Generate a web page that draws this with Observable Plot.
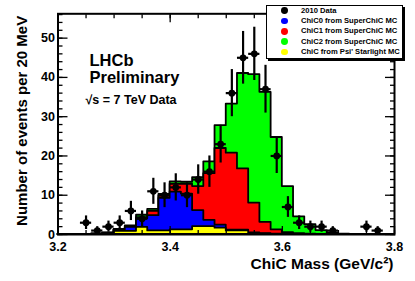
<!DOCTYPE html>
<html><head><meta charset="utf-8">
<script src="https://cdn.jsdelivr.net/npm/d3@7"></script>
<script src="https://cdn.jsdelivr.net/npm/@observablehq/plot@0.6"></script>
<style>
body{margin:0;background:#fff;}
#wrap{position:relative;width:415px;height:281px;font-family:"Liberation Sans",Arial,sans-serif;font-weight:bold;}
#legend{position:absolute;left:266px;top:5px;width:137px;height:54px;box-sizing:border-box;border:1px solid #000;background:#fff;box-shadow:2px 2px 0 #000;}
.row{position:absolute;left:0;height:10px;font-size:7.6px;line-height:10px;white-space:nowrap;}
.dot{position:absolute;left:14px;top:1.6px;width:6.8px;height:6.8px;border-radius:50%;}
.lab{position:absolute;left:34px;top:0;}
</style></head>
<body>
<div id="wrap"><div id="chart"></div><div id="legend"></div></div>
<script>
// bin centres (GeV/c^2), 20 MeV bins
const massBins = [3.21,3.23,3.25,3.27,3.29,3.31,3.33,3.35,3.37,3.39,3.41,3.43,3.45,3.47,3.49,3.51,3.53,3.55,3.57,3.59,3.61,3.63,3.65,3.67,3.69,3.71,3.73,3.75,3.77,3.79];
// 2010 data counts
const dataCounts = [0,0,3,1,2,3,6,4,11,10,12,10,14,16,23,36,45,46,37,20,7,3,2,2,1,0,0,2,1,0];
// MC components (stacked bottom to top)
const psiStarlight = [0,0,0,0,0.1,0.8,0.8,1.8,0.9,0.9,1.2,1.2,2.0,2.0,1.6,0.9,0.9,0.2,0.1,0,0,0,0,0,0,0,0,0,0,0];
const chic0 = [0,0,0,0.1,0.2,0.3,1.0,2.2,3.9,8.3,9.6,9.1,4.1,1.6,0.8,0.2,0.2,0.2,0.1,0.1,0,0,0,0,0,0,0,0,0,0];
const chic1 = [0,0,0,0,0.05,0.1,0.2,0.3,1.1,0.6,2.0,2.5,6.1,11.9,19.5,19.6,15.6,7.6,2.9,1.1,0.5,0.2,0.1,0,0,0,0,0,0,0];
const chic2 = [0,0,0,0.05,0.05,0.1,0.2,0.6,0.5,0.4,0.6,0.5,2.3,3.0,5.8,12.5,24.3,32.7,33.1,23.5,11.7,4.3,2.4,1.0,0.4,0.1,0,0,0,0];

const legendLabels = ["2010 Data","ChiC0 from SuperChiC MC","ChiC1 from SuperChiC MC","ChiC2 from SuperChiC MC","ChiC from Psi' Starlight MC"];
const legendColors = ["#000000","#0000ff","#ff0000","#00ff00","#ffff00"];
const xTickLabels = [3.2,3.4,3.6,3.8];
const yTickLabels = [0,10,20,30,40,50];

const halfBin = 0.01;
const cumY = psiStarlight.slice();
const cumB = cumY.map((v,i)=>v+chic0[i]);
const cumR = cumB.map((v,i)=>v+chic1[i]);
const cumG = cumR.map((v,i)=>v+chic2[i]);
function stepData(vals){
  const d = massBins.map((m,i)=>({x:m-halfBin, y:vals[i]}));
  d.push({x:massBins[massBins.length-1]+halfBin, y:vals[vals.length-1]});
  return d;
}
const points = massBins.map((m,i)=>({m, n:dataCounts[i]})).filter(d=>d.n>0);

const xMinor = d3.range(3.2, 3.8001, 0.05);
const yMinor = d3.range(0, 56.1, 2);

const layer = (vals, color) => Plot.areaY(stepData(vals), {x:"x", y:"y", curve:"step-after", fill:color, stroke:"black", strokeWidth:1.8});

const chart = Plot.plot({
  width:415, height:281,
  marginLeft:57.5, marginRight:21, marginTop:13.3, marginBottom:47,
  style:{fontFamily:"Liberation Sans, Arial, sans-serif", fontWeight:"bold", background:"#fff"},
  x:{domain:[3.2,3.8]},
  y:{domain:[0,56.2]},
  marks:[
    layer(cumG, "#00ff00"),
    layer(cumR, "#ff0000"),
    layer(cumB, "#0000ff"),
    layer(cumY, "#ffff00"),
    Plot.ruleX(points, {x:"m", y1:d=>d.n-Math.sqrt(d.n), y2:d=>d.n+Math.sqrt(d.n), stroke:"black", strokeWidth:2.2}),
    Plot.ruleY(points, {y:"n", x1:d=>d.m-halfBin, x2:d=>d.m+halfBin, stroke:"black", strokeWidth:2.2}),
    Plot.dot(points, {x:"m", y:"n", r:3.4, fill:"black", stroke:null}),
    Plot.frame({stroke:"black", strokeWidth:2}),
    // ticks (inward)
    Plot.axisY(yTickLabels, {anchor:"left", tickSize:-10, tickFormat:()=>"", label:null, strokeWidth:1.3}),
    Plot.axisY(yMinor, {anchor:"left", tickSize:-5, tickFormat:()=>"", label:null, strokeWidth:1.3}),
    Plot.axisY(yTickLabels, {anchor:"right", tickSize:-10, tickFormat:()=>"", label:null, strokeWidth:1.3}),
    Plot.axisY(yMinor, {anchor:"right", tickSize:-5, tickFormat:()=>"", label:null, strokeWidth:1.3}),
    Plot.axisX(xTickLabels, {anchor:"bottom", tickSize:-8, tickFormat:()=>"", label:null, strokeWidth:1.3}),
    Plot.axisX(xMinor, {anchor:"bottom", tickSize:-4, tickFormat:()=>"", label:null, strokeWidth:1.3}),
    Plot.axisX(xTickLabels, {anchor:"top", tickSize:-8, tickFormat:()=>"", label:null, strokeWidth:1.3}),
    Plot.axisX(xMinor, {anchor:"top", tickSize:-4, tickFormat:()=>"", label:null, strokeWidth:1.3}),
    // tick labels
    Plot.axisY(yTickLabels, {anchor:"left", tickSize:0, tickPadding:3, fontSize:12.5, fontWeight:"bold", label:null}),
    Plot.axisX(xTickLabels, {anchor:"bottom", tickSize:0, tickPadding:8, fontSize:12.5, fontWeight:"bold", tickFormat:d=>d.toFixed(1), label:null}),
    // titles
    Plot.text(["Number of events per 20 MeV"], {text:d=>d, frameAnchor:"top-left", rotate:-90, textAnchor:"end", dx:-42, dy:2, fontSize:15, fontWeight:"bold"}),
    Plot.text(["ChiC Mass (GeV/c²)"], {text:d=>d, frameAnchor:"bottom-right", textAnchor:"end", lineAnchor:"bottom", dx:-1, dy:34, fontSize:15.5, fontWeight:"bold"}),
    Plot.text(["LHCb"], {text:d=>d, frameAnchor:"top-left", textAnchor:"start", lineAnchor:"bottom", dx:31.5, dy:51.7, fontSize:16.5, fontWeight:"bold"}),
    Plot.text(["Preliminary"], {text:d=>d, frameAnchor:"top-left", textAnchor:"start", lineAnchor:"bottom", dx:31.5, dy:68.7, fontSize:16.5, fontWeight:"bold"}),
    Plot.text(["√s = 7 TeV Data"], {text:d=>d, frameAnchor:"top-left", textAnchor:"start", lineAnchor:"bottom", dx:27.5, dy:90, fontSize:12.5, fontWeight:"bold"})
  ]
});
document.getElementById("chart").appendChild(chart);

const leg = document.getElementById("legend");
legendLabels.forEach((t,k)=>{
  const row = document.createElement("div");
  row.className = "row";
  row.style.top = (-0.3 + 10.35*k) + "px";
  row.style.width = "100%";
  const dot = document.createElement("span");
  dot.className = "dot";
  dot.style.background = legendColors[k];
  const lab = document.createElement("span");
  lab.className = "lab";
  lab.textContent = t;
  row.appendChild(dot); row.appendChild(lab);
  leg.appendChild(row);
});
</script>
</body></html>
